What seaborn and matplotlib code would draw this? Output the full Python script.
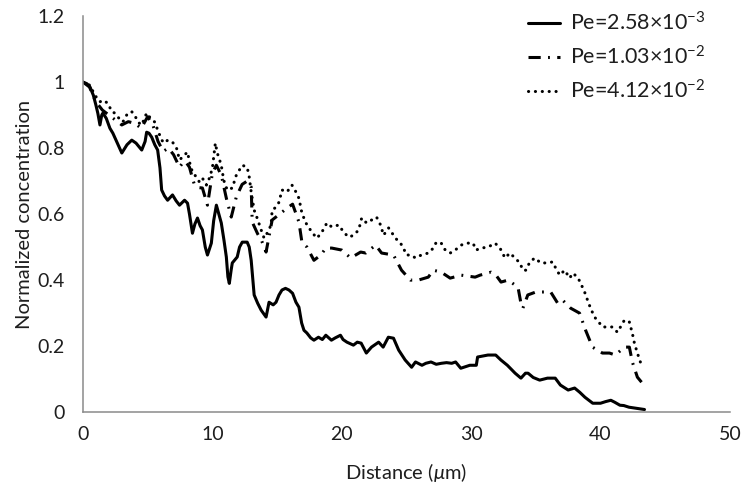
import numpy as np
import pandas as pd
import matplotlib
matplotlib.use("Agg")
import matplotlib.pyplot as plt
import seaborn as sns

# Concentration profiles along the channel for three Peclet numbers
x_low = [0.0, 0.3, 0.54, 0.8, 1.0, 1.15, 1.31, 1.45, 1.54, 1.8, 2.08, 2.31, 2.6, 3.0, 3.4, 3.77,
         4.1, 4.54, 4.8, 4.92, 5.1, 5.31, 5.55, 5.77, 5.95, 6.08, 6.3, 6.54, 6.92, 7.2, 7.46, 7.85,
         8.08, 8.23, 8.46, 8.65, 8.85, 9.05, 9.23, 9.45, 9.62, 9.92, 10.1, 10.31, 10.5, 10.69, 10.9,
         11.08, 11.2, 11.31, 11.45, 11.54, 11.92, 12.1, 12.31, 12.69, 12.85, 13.0, 13.23, 13.5, 13.77,
         14.15, 14.38, 14.7, 14.92, 15.15, 15.38, 15.65, 15.92, 16.2, 16.46, 16.69, 16.9, 17.08, 17.3,
         17.6, 17.85, 18.2, 18.5, 18.77, 19.2, 19.5, 19.9, 20.1, 20.4, 20.9, 21.2, 21.5, 21.9, 22.3,
         22.85, 23.2, 23.6, 24.0, 24.4, 24.9, 25.4, 25.7, 26.2, 26.5, 26.9, 27.3, 27.7, 28.1, 28.5,
         28.8, 29.2, 29.6, 29.9, 30.4, 30.5, 30.9, 31.3, 31.9, 32.3, 32.8, 33.1, 33.4, 33.85, 34.2,
         34.4, 34.8, 35.3, 35.9, 36.5, 36.9, 37.5, 38.0, 38.4, 38.8, 39.4, 40.0, 40.4, 40.8, 41.1,
         41.5, 41.8, 42.2, 42.7, 43.2, 43.4]
c_low = [1.0, 0.995, 0.985, 0.96, 0.93, 0.905, 0.87, 0.9, 0.906, 0.89, 0.86, 0.845, 0.82, 0.785, 0.81, 0.824,
         0.815, 0.794, 0.82, 0.848, 0.845, 0.833, 0.81, 0.794, 0.74, 0.673, 0.655, 0.642, 0.658, 0.64, 0.627, 0.642,
         0.633, 0.6, 0.542, 0.57, 0.588, 0.565, 0.552, 0.5, 0.476, 0.512, 0.58, 0.627, 0.6, 0.573, 0.52,
         0.47, 0.41, 0.39, 0.43, 0.452, 0.47, 0.5, 0.515, 0.515, 0.5, 0.46, 0.355, 0.33, 0.309,
         0.288, 0.333, 0.325, 0.333, 0.355, 0.37, 0.375, 0.37, 0.36, 0.333, 0.318, 0.27, 0.248, 0.24,
         0.225, 0.218, 0.227, 0.22, 0.233, 0.218, 0.225, 0.233, 0.22, 0.212, 0.203, 0.212, 0.209, 0.179, 0.197,
         0.212, 0.197, 0.227, 0.224, 0.188, 0.158, 0.136, 0.152, 0.142, 0.148, 0.152, 0.145, 0.148, 0.15, 0.148,
         0.152, 0.133, 0.138, 0.142, 0.142, 0.167, 0.17, 0.173, 0.173, 0.158, 0.142, 0.13, 0.118, 0.103, 0.118,
         0.118, 0.105, 0.097, 0.103, 0.103, 0.082, 0.067, 0.073, 0.06, 0.045, 0.027, 0.027, 0.032, 0.036, 0.03,
         0.021, 0.02, 0.015, 0.012, 0.009, 0.008]

x_mid = [0.0, 0.5, 1.0, 1.5, 2.0, 2.5, 3.0, 3.5, 4.0, 4.5, 5.0, 5.4, 5.8, 6.2, 6.6, 7.0, 7.46, 7.8,
         8.0, 8.23, 8.46, 8.62, 9.0, 9.23, 9.62, 10.0, 10.31, 10.69, 11.08, 11.46, 11.85, 12.3, 12.69,
         13.0, 13.08, 13.5, 13.8, 14.15, 14.62, 15.2, 15.77, 16.2, 16.69, 16.92, 17.31, 17.85, 18.38,
         18.77, 19.23, 20.0, 20.69, 21.46, 21.85, 22.62, 23.08, 24.0, 24.62, 25.31, 25.92, 26.69, 27.08,
         27.69, 28.38, 29.23, 30.31, 30.69, 31.54, 31.92, 32.31, 32.85, 33.62, 33.85, 34.0, 34.38, 35.0,
         36.15, 36.69, 37.08, 37.69, 38.38, 38.85, 39.38, 40.15, 40.69, 41.15, 41.85, 42.23, 42.46,
         42.85, 43.23]
c_mid = [1.0, 0.985, 0.94, 0.915, 0.9, 0.885, 0.87, 0.88, 0.875, 0.86, 0.895, 0.87, 0.82, 0.79, 0.8, 0.78, 0.742, 0.76,
         0.755, 0.742, 0.709, 0.688, 0.68, 0.679, 0.627, 0.724, 0.748, 0.718, 0.648, 0.591, 0.652, 0.69, 0.70,
         0.682, 0.576, 0.54, 0.52, 0.485, 0.582, 0.6, 0.618, 0.63, 0.576, 0.515, 0.5, 0.46, 0.476,
         0.497, 0.497, 0.491, 0.467, 0.485, 0.482, 0.506, 0.482, 0.476, 0.43, 0.4, 0.4, 0.409, 0.43,
         0.424, 0.406, 0.415, 0.409, 0.415, 0.424, 0.415, 0.394, 0.4, 0.379, 0.33, 0.315, 0.355, 0.364,
         0.364, 0.33, 0.339, 0.315, 0.3, 0.248, 0.197, 0.179, 0.179, 0.173, 0.197, 0.197, 0.152,
         0.106, 0.088]

x_high = [0.0, 0.54, 0.92, 1.31, 1.54, 1.92, 2.23, 2.46, 2.69, 3.08, 3.46, 3.77, 4.0, 4.23, 4.54, 4.92,
          5.15, 5.54, 5.77, 6.08, 6.31, 6.54, 6.92, 7.23, 7.46, 7.85, 8.08, 8.23, 8.46, 8.77, 9.0, 9.23,
          9.54, 9.77, 10.0, 10.23, 10.38, 10.69, 10.77, 10.92, 11.15, 11.54, 11.85, 12.08, 12.31, 12.69,
          12.85, 13.0, 13.23, 13.46, 13.77, 14.0, 14.23, 14.54, 14.62, 14.92, 15.15, 15.38, 15.77, 16.15,
          16.46, 16.69, 16.92, 17.23, 17.69, 18.08, 18.46, 18.85, 19.23, 19.77, 20.15, 20.54, 20.92, 21.31,
          21.54, 21.92, 22.31, 22.69, 23.0, 23.23, 23.62, 23.85, 24.15, 24.54, 24.77, 25.0, 25.38, 25.69,
          26.15, 26.69, 27.08, 27.31, 27.69, 28.0, 28.38, 28.77, 29.23, 29.62, 30.15, 30.38, 30.77, 31.31,
          31.85, 32.23, 32.62, 33.0, 33.38, 33.77, 34.0, 34.23, 34.54, 34.92, 35.38, 35.77, 36.31, 36.54,
          36.85, 37.23, 37.62, 37.85, 38.23, 38.46, 38.77, 39.0, 39.23, 39.54, 39.92, 40.15, 40.54, 40.92,
          41.31, 41.54, 41.85, 42.23, 42.46, 42.62, 42.85, 43.08, 43.3]
c_high = [1.0, 0.99, 0.96, 0.94, 0.945, 0.936, 0.91, 0.906, 0.894, 0.879, 0.906, 0.91, 0.9, 0.879, 0.87, 0.906,
          0.894, 0.879, 0.855, 0.824, 0.815, 0.824, 0.818, 0.8, 0.764, 0.779, 0.788, 0.758, 0.727, 0.712, 0.697, 0.709,
          0.688, 0.709, 0.739, 0.815, 0.785, 0.748, 0.727, 0.697, 0.673, 0.679, 0.718, 0.733, 0.748, 0.742,
          0.712, 0.667, 0.612, 0.588, 0.552, 0.527, 0.542, 0.567, 0.612, 0.621, 0.636, 0.673, 0.667, 0.688,
          0.667, 0.648, 0.603, 0.573, 0.545, 0.527, 0.545, 0.573, 0.561, 0.567, 0.545, 0.53, 0.536, 0.552,
          0.588, 0.573, 0.582, 0.591, 0.567, 0.536, 0.558, 0.545, 0.527, 0.512, 0.497, 0.476, 0.476, 0.467,
          0.476, 0.482, 0.497, 0.515, 0.512, 0.491, 0.482, 0.491, 0.506, 0.512, 0.512, 0.491, 0.497, 0.5,
          0.512, 0.497, 0.467, 0.482, 0.467, 0.452, 0.43, 0.43, 0.455, 0.467, 0.452, 0.452, 0.455, 0.436,
          0.415, 0.43, 0.406, 0.421, 0.409, 0.391, 0.364, 0.339, 0.315, 0.288, 0.27, 0.258, 0.258, 0.258,
          0.242, 0.258, 0.279, 0.273, 0.239, 0.209, 0.179, 0.152, 0.158]

labels = [r"Pe=2.58$\times$10$^{-3}$", r"Pe=1.03$\times$10$^{-2}$", r"Pe=4.12$\times$10$^{-2}$"]
x_ticks = [0, 10, 20, 30, 40, 50]
y_ticks = [0, 0.2, 0.4, 0.6, 0.8, 1.0, 1.2]
y_tick_labels = ["0", "0.2", "0.4", "0.6", "0.8", "1", "1.2"]

frames = []
for lab, xs, cs in zip(labels, [x_low, x_mid, x_high], [c_low, c_mid, c_high]):
    frames.append(pd.DataFrame({"Distance": xs, "Concentration": cs, "Pe": lab}))
df = pd.concat(frames, ignore_index=True)

sns.set_style("white")
plt.rcParams["font.family"] = ["Lato", "DejaVu Sans"]
plt.rcParams["mathtext.fontset"] = "custom"
plt.rcParams["mathtext.rm"] = "Lato"
plt.rcParams["mathtext.it"] = "Lato:italic"
plt.rcParams["mathtext.bf"] = "Lato:bold"

fig = plt.figure(figsize=(7.41, 4.93), dpi=100)
ax = fig.add_axes([0.112, 0.164, 0.873, 0.8035])

lw = 2.2
styles = {
    labels[0]: dict(linestyle="-"),
    labels[1]: dict(linestyle=(0, (4.0, 2.4, 0.6, 2.4)), dash_capstyle="butt"),
    labels[2]: dict(linestyle=(0, (0.05, 2.2)), dash_capstyle="round"),
}
for lab in labels:
    sub = df[df["Pe"] == lab]
    sns.lineplot(data=sub, x="Distance", y="Concentration", ax=ax, color="black",
                 linewidth=lw, sort=False, estimator=None, label=lab, **styles[lab])

ax.set_xlim(0, 50)
ax.set_ylim(0, 1.2)
ax.set_xticks(x_ticks)
ax.set_xticklabels([str(t) for t in x_ticks])
ax.set_yticks(y_ticks)
ax.set_yticklabels(y_tick_labels)

axis_grey = "#8a8a8a"
text_col = "#1e1e1e"
for side in ["top", "right"]:
    ax.spines[side].set_visible(False)
for side in ["left", "bottom"]:
    ax.spines[side].set_color(axis_grey)
    ax.spines[side].set_linewidth(1.1)
ax.tick_params(axis="both", direction="in", length=5, width=1.0, color=axis_grey,
               labelsize=14, labelcolor=text_col)
ax.tick_params(axis="y", pad=13)
ax.tick_params(axis="x", pad=10)

ax.set_xlabel(r"Distance ($\mu$m)", fontsize=14.5, color=text_col, labelpad=13)
ax.set_ylabel("Normalized concentration", fontsize=14.5, color=text_col, labelpad=3.5)

leg = ax.legend(loc="upper right", bbox_to_anchor=(706 / 741, 1 - 11 / 493),
                bbox_transform=fig.transFigure, frameon=False, fontsize=15.5,
                handlelength=1.45, handletextpad=0.5, labelspacing=0.51, borderaxespad=0.0,
                borderpad=0.0)
for t in leg.get_texts():
    t.set_color(text_col)

fig.savefig("out.png", dpi=100)
